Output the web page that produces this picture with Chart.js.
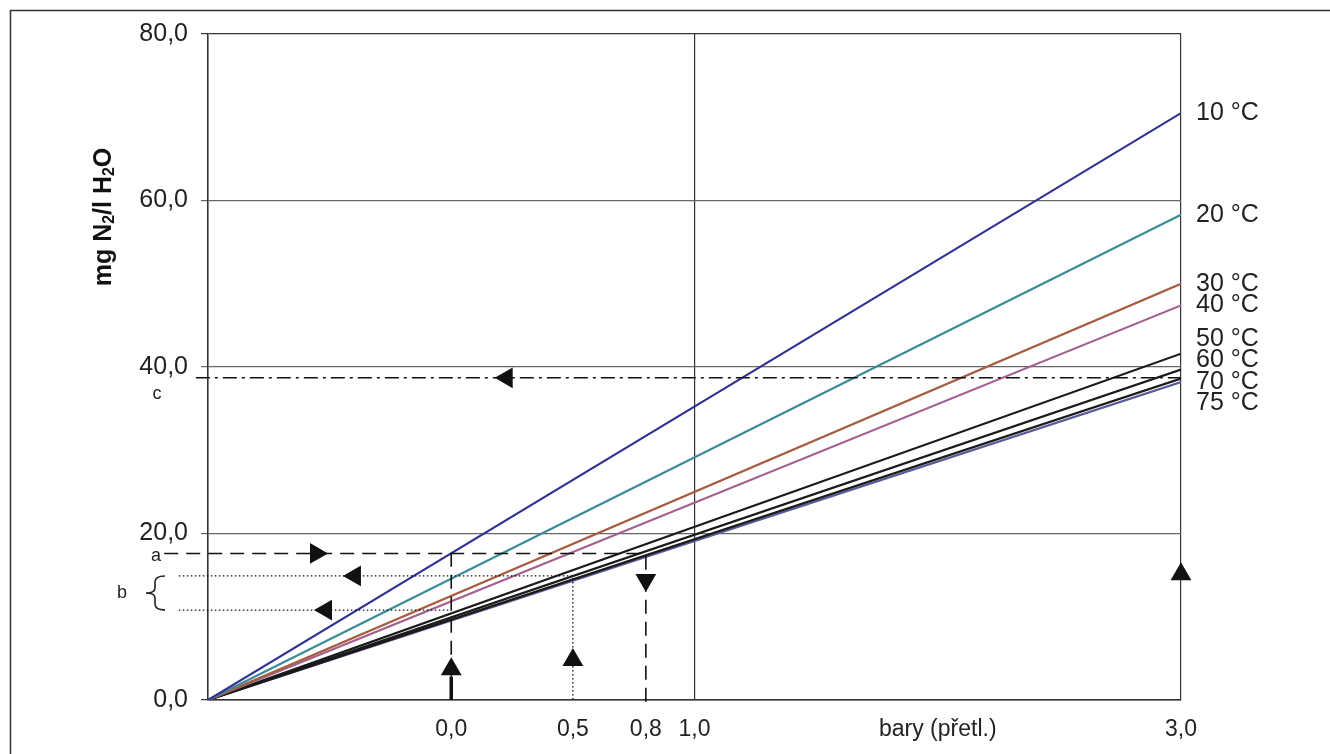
<!DOCTYPE html>
<html>
<head>
<meta charset="utf-8">
<script src="https://cdn.jsdelivr.net/npm/chart.js@4.4.1/dist/chart.umd.min.js"></script>
<style>
html, body { margin: 0; padding: 0; background: #fff; }
canvas { display: block; }
</style>
</head>
<body>
<canvas id="grafica" width="1330" height="754"></canvas>
<script>
// ---------------------------------------------------------------------------
// DATA
// ---------------------------------------------------------------------------
// N2 solubility at 3,0 bar gauge, lines start at 0 bar absolute (-1 bar gauge)
var teploty = ['10 °C', '20 °C', '30 °C', '40 °C', '50 °C', '60 °C', '70 °C', '75 °C'];
var rozpustnost3bar = [70.5, 58.3, 50.0, 47.4, 41.6, 39.7, 38.6, 38.2];
var barvy = ['#2e3192', '#3a8b9a', '#a65c40', '#a4608e', '#1a1a1a', '#1a1a1a', '#1a1a1a', '#5a5b9a'];

var pNula = -1.0;   // 0 bar absolute
var pMax = 3.0;
var xTicks = [0, 0.5, 0.8, 1.0, 2.0, 3.0];   // 2.0 carries the axis name
var yTicks = [0, 20, 40, 60, 80];

// reading examples a, b, c
var cteniA = 17.6;
var cteniB = [14.9, 10.8];
var cteniC = 38.7;

// arrow heads: pressure, value, direction (deg, 0 = up)
var sipkyX = [-0.556, -0.396, -0.515, 0.228, 0.0, 0.5, 0.8, 3.0];
var sipkyY = [cteniA, cteniB[0], cteniB[1], cteniC, 3.7, 4.8, 14.4, 15.1];
var sipkyRot = [90, 270, 270, 270, 0, 0, 180, 0];

// ---------------------------------------------------------------------------
// DATASETS
// ---------------------------------------------------------------------------
var datasets = [];

// arrow heads on top
datasets.push({
    data: sipkyX.map(function(x, i) { return { x: x, y: sipkyY[i] }; }),
    showLine: false,
    pointStyle: 'triangle',
    pointRadius: 12,
    pointRotation: sipkyRot,
    backgroundColor: '#111',
    borderWidth: 0,
    clip: false,
    order: 0
});

// a - dashed
datasets.push({
    data: [{ x: -1.18, y: cteniA }, { x: 0.8, y: cteniA }, { x: 0.8, y: -0.96 }],
    borderColor: '#111', borderWidth: 1.6, borderDash: [14, 8],
    showLine: true, pointRadius: 0, clip: false, order: 1
});
datasets.push({
    data: [{ x: 0, y: 2.8 }, { x: 0, y: cteniA }],
    borderColor: '#111', borderWidth: 1.6, borderDash: [14, 8],
    showLine: true, pointRadius: 0, clip: false, order: 1
});
datasets.push({
    data: [{ x: 0, y: 0 }, { x: 0, y: 2.8 }],
    borderColor: '#111', borderWidth: 3.5,
    showLine: true, pointRadius: 0, clip: false, order: 1
});

// b - dotted
datasets.push({
    data: [{ x: -1.12, y: cteniB[0] }, { x: 0.5, y: cteniB[0] }, { x: 0.5, y: 0 }],
    borderColor: '#111', borderWidth: 1.3, borderDash: [1.5, 2.5],
    showLine: true, pointRadius: 0, clip: false, order: 1
});
datasets.push({
    data: [{ x: -1.12, y: cteniB[1] }, { x: 0, y: cteniB[1] }],
    borderColor: '#111', borderWidth: 1.3, borderDash: [1.5, 2.5],
    showLine: true, pointRadius: 0, clip: false, order: 1
});

// c - dash dot
datasets.push({
    data: [{ x: -1.05, y: cteniC }, { x: pMax, y: cteniC }],
    borderColor: '#111', borderWidth: 1.6, borderDash: [14, 5, 3, 5],
    showLine: true, pointRadius: 0, clip: false, order: 1
});

// solubility lines
teploty.forEach(function(t, i) {
    datasets.push({
        label: t,
        data: [{ x: pNula, y: 0 }, { x: pMax, y: rozpustnost3bar[i] }],
        borderColor: barvy[i],
        borderWidth: 2.2,
        showLine: true,
        pointRadius: 0,
        order: 2
    });
});

function carka(v) {
    return v.toFixed(1).replace('.', ',');
}

// spread the temperature labels so they do not overlap
function rozlozit(ys, mezera) {
    var skupiny = ys.map(function(y, i) { return { items: [i], stred: y }; });
    var zmena = true;
    while (zmena) {
        zmena = false;
        for (var k = 1; k < skupiny.length; k++) {
            var a = skupiny[k - 1], b = skupiny[k];
            var aDole = a.stred + (a.items.length - 1) * mezera / 2;
            var bNahore = b.stred - (b.items.length - 1) * mezera / 2;
            if (bNahore - aDole < mezera) {
                var items = a.items.concat(b.items);
                var stred = items.reduce(function(s, j) { return s + ys[j]; }, 0) / items.length;
                skupiny.splice(k - 1, 2, { items: items, stred: stred });
                zmena = true;
                break;
            }
        }
    }
    var out = [];
    skupiny.forEach(function(g) {
        g.items.forEach(function(j, n) {
            out[j] = g.stred + (n - (g.items.length - 1) / 2) * mezera;
        });
    });
    return out;
}

// ---------------------------------------------------------------------------
// TEXT, BRACE, FRAME
// ---------------------------------------------------------------------------
var popisky = {
    id: 'popisky',
    beforeDraw: function(chart) {
        var ctx = chart.ctx;
        ctx.save();
        ctx.fillStyle = '#fff';
        ctx.fillRect(0, 0, chart.width, chart.height);
        ctx.restore();
    },
    afterDraw: function(chart) {
        var ctx = chart.ctx;
        var area = chart.chartArea;
        var sy = chart.scales.y;
        ctx.save();

        // outer frame
        ctx.strokeStyle = '#333';
        ctx.lineWidth = 1.5;
        ctx.strokeRect(10.5, 10.5, 1340, 770);

        // temperature labels
        var konce = rozpustnost3bar.map(function(v) { return sy.getPixelForValue(v); });
        var pozice = rozlozit(konce, 21.5);
        ctx.fillStyle = '#222';
        ctx.font = '25px "Liberation Sans", Arial, sans-serif';
        ctx.textAlign = 'left';
        ctx.textBaseline = 'middle';
        teploty.forEach(function(t, i) {
            ctx.fillText(t, area.right + 15, pozice[i]);
        });

        // letters a, b, c
        ctx.font = '18px "Liberation Sans", Arial, sans-serif';
        ctx.textAlign = 'center';
        ctx.fillText('a', area.left - 52, sy.getPixelForValue(cteniA) + 3);
        ctx.fillText('c', area.left - 51, sy.getPixelForValue(cteniC) + 16);
        var yb1 = sy.getPixelForValue(cteniB[0]);
        var yb2 = sy.getPixelForValue(cteniB[1]);
        var mid = (yb1 + yb2) / 2;
        ctx.fillText('b', area.left - 86, mid);

        // brace
        var xr = area.left - 43, xm = area.left - 53, xl = area.left - 62;
        ctx.strokeStyle = '#222';
        ctx.lineWidth = 1.6;
        ctx.beginPath();
        ctx.moveTo(xr, yb1);
        ctx.quadraticCurveTo(xm, yb1, xm, yb1 + 6);
        ctx.lineTo(xm, mid - 5);
        ctx.quadraticCurveTo(xm, mid, xl, mid);
        ctx.quadraticCurveTo(xm, mid, xm, mid + 5);
        ctx.lineTo(xm, yb2 - 6);
        ctx.quadraticCurveTo(xm, yb2, xr, yb2);
        ctx.stroke();

        // y axis title with subscripts
        var casti = [['mg N', false], ['2', true], ['/l H', false], ['2', true], ['O', false]];
        var velky = 'bold 25px "Liberation Sans", Arial, sans-serif';
        var maly = 'bold 16px "Liberation Sans", Arial, sans-serif';
        var celkem = 0;
        casti.forEach(function(c) {
            ctx.font = c[1] ? maly : velky;
            celkem += ctx.measureText(c[0]).width;
        });
        ctx.translate(104, 217);
        ctx.rotate(-Math.PI / 2);
        ctx.textAlign = 'left';
        ctx.textBaseline = 'middle';
        ctx.fillStyle = '#111';
        var x = -celkem / 2;
        casti.forEach(function(c) {
            ctx.font = c[1] ? maly : velky;
            ctx.fillText(c[0], x, c[1] ? 6 : 0);
            x += ctx.measureText(c[0]).width;
        });

        ctx.restore();
    }
};

// ---------------------------------------------------------------------------
// CHART
// ---------------------------------------------------------------------------
var ctx = document.getElementById('grafica').getContext('2d');
var graf = new Chart(ctx, {
    type: 'scatter',
    data: { datasets: datasets },
    options: {
        responsive: false,
        animation: false,
        devicePixelRatio: 1,
        layout: { padding: { top: 34, right: 149, left: 0, bottom: 0 } },
        plugins: {
            legend: { display: false },
            tooltip: { enabled: false }
        },
        scales: {
            x: {
                type: 'linear',
                min: pNula,
                max: pMax,
                afterBuildTicks: function(scale) {
                    scale.ticks = xTicks.map(function(v) { return { value: v }; });
                },
                afterFit: function(scale) { scale.height = 54; },
                ticks: {
                    autoSkip: false,
                    maxRotation: 0,
                    padding: 16,
                    color: '#222',
                    font: { family: '"Liberation Sans", Arial, sans-serif', size: 23 },
                    callback: function(v) {
                        return v === 2 ? 'bary (přetl.)' : carka(v);
                    }
                },
                grid: {
                    drawTicks: false,
                    lineWidth: 1.2,
                    color: function(c) {
                        var v = c.tick ? c.tick.value : null;
                        return (v === 1 || v === 3) ? '#333' : 'rgba(0,0,0,0)';
                    }
                },
                border: { display: true, color: '#333', width: 1.6 }
            },
            y: {
                min: 0,
                max: 80,
                afterBuildTicks: function(scale) {
                    scale.ticks = yTicks.map(function(v) { return { value: v }; });
                },
                afterFit: function(scale) { scale.width = 208; },
                ticks: {
                    padding: 13,
                    color: '#222',
                    font: { family: '"Liberation Sans", Arial, sans-serif', size: 25 },
                    callback: function(v) { return carka(v); }
                },
                grid: {
                    drawTicks: true,
                    tickLength: 7,
                    lineWidth: 1.2,
                    color: function(c) {
                        var v = c.tick ? c.tick.value : null;
                        return (v === 0 || v === 80) ? '#333' : '#666';
                    }
                },
                border: { display: true, color: '#333', width: 1.6 }
            }
        }
    },
    plugins: [popisky]
});
</script>
</body>
</html>
